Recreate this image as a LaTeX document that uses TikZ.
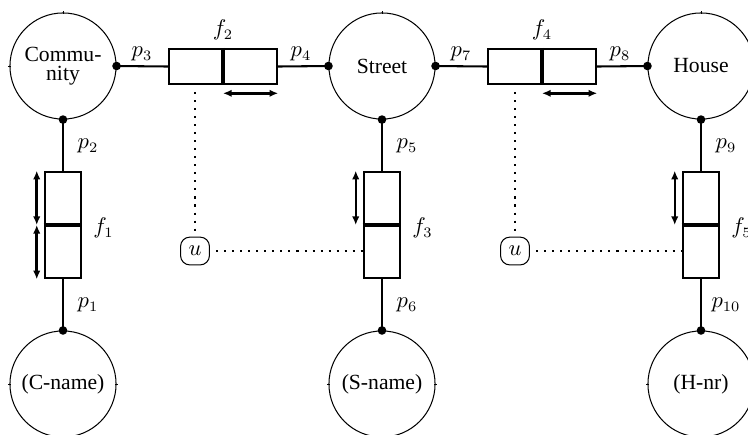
\documentclass[tikz,border=0pt]{standalone}
\usepackage{fontspec}
\setmainfont{Liberation Serif}
\usetikzlibrary{arrows.meta}

\begin{document}
\begin{tikzpicture}[
  x=0.4854pt, y=-0.4854pt,
  every node/.style={font=\fontsize{10.5}{9.2}\selectfont},
  entity/.style={circle, draw, line width=0.5pt, minimum size=51.5pt,
    inner sep=0pt, align=center},
  port/.style={circle, fill, inner sep=0pt, minimum size=4.2pt},
  link/.style={line width=1pt},
  hbox/.style={draw, line width=1.2pt, minimum width=52.4pt,
    minimum height=17pt, inner sep=0pt},
  vbox/.style={draw, line width=1.2pt, minimum width=17.5pt,
    minimum height=51.5pt, inner sep=0pt},
  divider/.style={line width=1.6pt},
  motion/.style={line width=1.2pt,
    {Latex[length=4.2pt,width=3.6pt]}-{Latex[length=4.2pt,width=3.6pt]}},
  ctrl/.style={line width=1.3pt, dash pattern=on 1pt off 2.9pt},
  unode/.style={draw, line width=0.5pt, rounded corners=4.5pt,
    minimum width=14pt, minimum height=13.5pt, inner sep=0pt},
  lbl/.style={inner sep=0pt},
  tick/.style={line width=0.3pt},
]
\useasboundingbox (0,0) rectangle (748,434);

% entity circles
\node[entity] (comm)  at (63,66)  {Commu-\\nity};
\node[entity] (street) at (382,66) {Street};
\node[entity] (house) at (701,66)  {House};
\node[entity] (cname) at (63,384)  {(C-name)};
\node[entity] (sname) at (382,384) {(S-name)};
\node[entity] (hnr)   at (701,384) {(H-nr)};

% small marks on the circle outlines
\foreach \n in {comm,street,house,cname,sname,hnr}{
  \draw[tick] ([xshift=-0.7pt]\n.west) -- ([xshift=0.7pt]\n.west);
  \draw[tick] ([xshift=-0.7pt]\n.east) -- ([xshift=0.7pt]\n.east);
  \draw[tick] ([yshift=-0.7pt]\n.north) -- ([yshift=0.7pt]\n.north);
}

% function boxes
\node[hbox] (f2) at (223,66.5) {};
\node[hbox] (f4) at (542,66.5) {};
\node[vbox] (f1) at (63,225)  {};
\node[vbox] (f3) at (382,225) {};
\node[vbox] (f5) at (701,225) {};
\draw[divider] (f2.north) -- (f2.south);
\draw[divider] (f4.north) -- (f4.south);
\draw[divider] (f1.west) -- (f1.east);
\draw[divider] (f3.west) -- (f3.east);
\draw[divider] (f5.west) -- (f5.east);

% connectors
\draw[link] (comm.east) -- (f2.west);
\draw[link] (f2.east) -- (street.west);
\draw[link] (street.east) -- (f4.west);
\draw[link] (f4.east) -- (house.west);
\draw[link] (comm.south) -- (f1.north);
\draw[link] (f1.south) -- (cname.north);
\draw[link] (street.south) -- (f3.north);
\draw[link] (f3.south) -- (sname.north);
\draw[link] (house.south) -- (f5.north);
\draw[link] (f5.south) -- (hnr.north);

% ports
\foreach \a in {comm.east,comm.south,street.west,street.east,street.south,
  house.west,house.south,cname.north,sname.north,hnr.north}
  \node[port] at (\a) {};

% motion arrows
\draw[motion] ([yshift=-3.9pt]f2.south) -- ([yshift=-3.9pt]f2.south east);
\draw[motion] ([yshift=-3.9pt]f4.south) -- ([yshift=-3.9pt]f4.south east);
\draw[motion] ([xshift=-3.4pt]f1.north west) -- ([xshift=-3.4pt]f1.west);
\draw[motion] ([xshift=-3.4pt]f1.west) -- ([xshift=-3.4pt]f1.south west);
\draw[motion] ([xshift=-3.4pt]f3.north west) -- ([xshift=-3.4pt]f3.west);
\draw[motion] ([xshift=-3.4pt]f5.north west) -- ([xshift=-3.4pt]f5.west);

% control nodes and dotted control lines
\node[unode] (u1) at (195,251) {$u$};
\node[unode] (u2) at (515,251) {$u$};
\coordinate (c1) at (195,92);
\coordinate (c2) at (515,92);
\draw[ctrl] (c1) -- (u1.north);
\draw[ctrl] (c2) -- (u2.north);
\draw[ctrl, shorten <=3pt] (u1.east) -- (u1 -| f3.west);
\draw[ctrl, shorten <=3pt] (u2.east) -- (u2 -| f5.west);

% labels
\node[lbl] at (223,30) {$f_2$};
\node[lbl] at (542,30) {$f_4$};
\node[lbl, anchor=west] at (93,228)  {$f_1$};
\node[lbl, anchor=west] at (412,228) {$f_3$};
\node[lbl, anchor=west] at (731,228) {$f_5$};
\node[lbl] at (142,54) {$p_3$};
\node[lbl] at (301,54) {$p_4$};
\node[lbl] at (461,54) {$p_7$};
\node[lbl] at (620,54) {$p_8$};
\node[lbl] at (88,146)  {$p_2$};
\node[lbl] at (88,305)  {$p_1$};
\node[lbl] at (407,146) {$p_5$};
\node[lbl] at (407,305) {$p_6$};
\node[lbl] at (726,146) {$p_9$};
\node[lbl] at (726,305) {$p_{10}$};
\end{tikzpicture}
\end{document}
